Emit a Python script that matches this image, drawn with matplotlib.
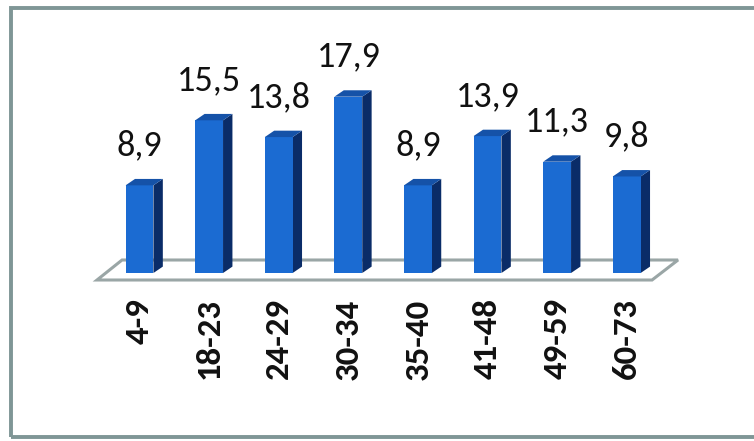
import matplotlib.pyplot as plt
from matplotlib.patches import Polygon, Rectangle

CATEGORIES = ["4-9", "18-23", "24-29", "30-34", "35-40", "41-48", "49-59", "60-73"]
VALUES = [8.9, 15.5, 13.8, 17.9, 8.9, 13.9, 11.3, 9.8]
LABELS = ["8,9", "15,5", "13,8", "17,9", "8,9", "13,9", "11,3", "9,8"]

FRONT = "#1b6bd2"
SIDE = "#0a2c68"
TOP = "#1552a8"
FLOOR = "#9aa6a6"
FONT = ["Carlito", "Lato", "DejaVu Sans"]


def main():
    fig = plt.figure(figsize=(7.54, 4.41), dpi=100)
    ax = fig.add_axes([0.1194, 0.3424, 0.8090, 0.5669])
    ax.set_xlim(-0.711, 8.053)
    ax.set_ylim(-1.726, 23.655)

    w = 0.40     # front face width
    dx = 0.135   # depth offset along x
    dy = 0.65    # depth offset along y

    # floor
    ax.add_patch(Polygon([(-0.611, -0.711), (7.364, -0.711), (7.737, 1.32), (-0.251, 1.32)],
                         closed=True, facecolor="white", edgecolor=FLOOR, lw=2.2, zorder=1))

    xs = list(range(len(VALUES)))
    ax.bar(xs, VALUES, width=w, color=FRONT, zorder=3)
    for x, v, lab in zip(xs, VALUES, LABELS):
        r = x + w / 2
        l = x - w / 2
        ax.add_patch(Polygon([(r, 0), (r + dx, dy), (r + dx, v + dy), (r, v)],
                             closed=True, facecolor=SIDE, edgecolor="none", zorder=2))
        ax.add_patch(Polygon([(l, v), (r, v), (r + dx, v + dy), (l + dx, v + dy)],
                             closed=True, facecolor=TOP, edgecolor="none", zorder=3))
        ax.annotate(lab, (x, v + dy), xytext=(0, 17), textcoords="offset points",
                    ha="center", va="baseline", fontsize=26, family=FONT, color="#111111")

    ax.set_xticks(xs)
    ax.set_xticklabels(CATEGORIES, rotation=90, fontsize=25, fontweight="bold",
                       family=FONT, color="#111111")
    ax.tick_params(axis="x", length=0, pad=6)
    ax.set_yticks([])
    for s in ax.spines.values():
        s.set_visible(False)
    ax.patch.set_alpha(0)

    # outer chart frame
    fig.patches.append(Rectangle((11 / 754, 0.009), 1.0, 0.973, transform=fig.transFigure,
                                 fill=False, edgecolor="#7f9696", lw=2.8))

    fig.savefig("out.png", dpi=100)


if __name__ == "__main__":
    main()
